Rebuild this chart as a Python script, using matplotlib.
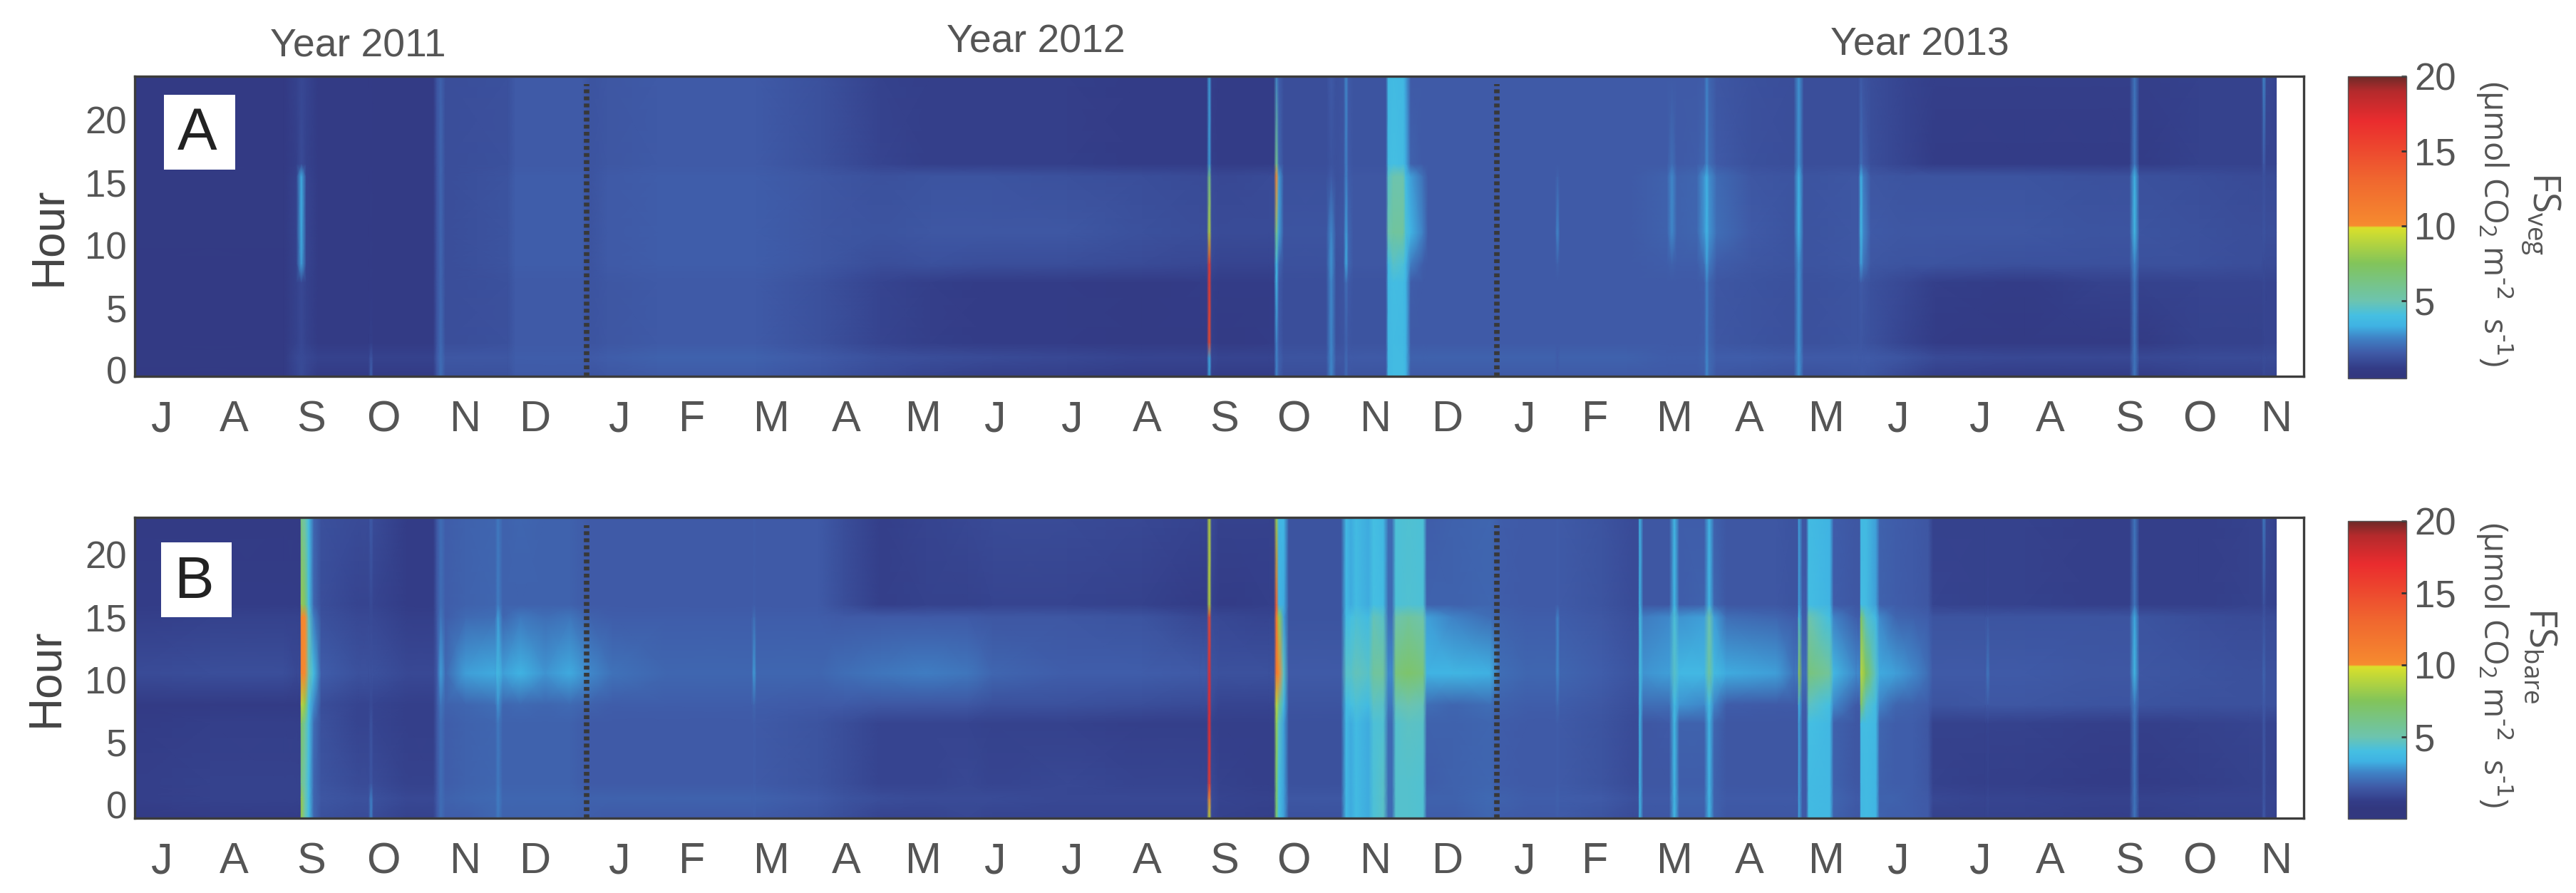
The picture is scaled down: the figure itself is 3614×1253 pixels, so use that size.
"""
Soil CO2 flux by hour of day, July 2011 to November 2013, vegetated and bare plots.
"""

import numpy as np
import matplotlib
matplotlib.use("Agg")
import matplotlib.pyplot as plt
from matplotlib.cm import ScalarMappable
from matplotlib.colors import LinearSegmentedColormap, Normalize
from matplotlib.patches import Rectangle

W, H = 3614, 1253
NARROW = ["Liberation Sans Narrow", "Liberation Sans", "DejaVu Sans"]
GREY = "#555555"

month_labels = list("JASONDJFMAMJJASONDJFMAMJJASON")
month_days = [11, 40, 71, 100, 133, 161, 195, 224, 256, 286, 317, 346, 377, 407, 438, 466,
              499, 528, 559, 587, 619, 649, 680, 709, 742, 770, 802, 830, 861]
year_ends = [181.7, 547.6]
hour_ticks = [0, 5, 10, 15, 20]
cbar_ticks = [5, 10, 15, 20]

# colour scale
scale_values = [0, 0.5, 1.5, 2.5, 3.3, 4, 5, 7.5, 9.9, 10, 13, 17, 19, 20]
scale_colors = ["#32387f", "#333c87", "#3f5aa7", "#3f82c6", "#3fb2e3", "#45bfe2", "#6dc4ae",
                "#82c45a", "#dbe02a", "#f68b2f", "#f0682f", "#ea2c2e", "#b42a2c", "#6d2a28"]

# panel A: one row per day listed, values at the hours listed
veg_hours = [-0.5, 1, 2.2, 7, 8.5, 11, 15.5, 16.5, 23.5]
veg_days = [0, 60, 65, 67, 69, 74, 94, 95, 96, 120, 121.5, 123, 125, 150, 153, 180, 183, 190, 210,
            250, 276, 300, 320, 345, 375, 405, 428, 431, 432, 433, 436, 456, 458, 459, 460, 462,
            479, 481, 483, 486, 487, 488, 490, 503, 504, 506, 510, 511, 513, 518, 520, 550, 571,
            572, 573, 600, 616, 618, 620, 628, 631, 632, 633, 636, 650, 667, 669, 671, 690, 693,
            694, 695, 698, 712, 724, 760, 790, 802, 804, 806, 830, 850, 855, 856, 857, 861]
fs_veg = [
    [.3, .35, .3, .3, .3, .35, .35, .3, .3],
    [.3, .35, .3, .3, .3, .35, .35, .3, .3],
    [.8, .9, .7, .7, .7, .7, .7, .6, .7],
    [1, 1, .9, .9, 3, 3.2, 3.2, 1, .9],
    [.8, .9, .7, .7, .8, .8, .8, .7, .8],
    [.4, .7, .4, .4, .4, .4, .4, .4, .4],
    [.4, .7, .4, .4, .4, .4, .4, .4, .4],
    [1.7, 1.4, .6, .5, .5, .5, .5, .4, .5],
    [.4, .7, .4, .4, .4, .4, .4, .4, .4],
    [.4, .7, .4, .4, .4, .4, .4, .4, .4],
    [1.3, 1.5, 1.3, 1.3, 1.3, 1.3, 1.3, 1.3, 1.3],
    [2, 2, 1.9, 1.8, 1.8, 1.8, 1.8, 1.8, 1.7],
    [1.2, 1.4, 1.1, 1.1, 1.1, 1.1, 1.1, 1.1, 1.1],
    [1.2, 1.4, 1.2, 1.2, 1.3, 1.3, 1.3, 1.2, 1.2],
    [1.5, 1.6, 1.5, 1.5, 1.6, 1.6, 1.6, 1.5, 1.5],
    [1.5, 1.6, 1.5, 1.5, 1.6, 1.6, 1.6, 1.5, 1.5],
    [1.3, 1.5, 1.3, 1.3, 1.3, 1.3, 1.3, 1.3, 1.3],
    [1.4, 1.6, 1.4, 1.4, 1.5, 1.5, 1.5, 1.4, 1.4],
    [1.5, 1.7, 1.5, 1.5, 1.6, 1.6, 1.6, 1.5, 1.5],
    [1.5, 1.7, 1.5, 1.5, 1.6, 1.6, 1.6, 1.5, 1.5],
    [1.3, 1.5, 1.2, 1.2, 1.4, 1.4, 1.4, 1.2, 1.2],
    [1, 1.2, .8, .8, 1.1, 1.3, 1.2, .8, .7],
    [.8, 1.1, .6, .6, 1.2, 1.4, 1.3, .6, .6],
    [.6, 1, .5, .5, 1.1, 1.4, 1.3, .6, .6],
    [.6, .9, .5, .5, 1.1, 1.4, 1.2, .6, .6],
    [.5, .8, .4, .4, 1, 1.2, 1.1, .5, .5],
    [.5, .8, .4, .5, .9, 1.1, 1, .5, .5],
    [.5, .8, .4, .5, .9, 1.1, 1, .5, .5],
    [3, 3.2, 15, 16, 16, 9, 6, 3, 3],
    [.6, .9, .6, .6, .9, 1.1, 1, .6, .6],
    [.5, .8, .4, .5, .8, 1, .9, .5, .5],
    [.5, .8, .5, .5, .8, 1, 1, .5, .5],
    [.5, .8, .5, .5, .8, 1, 1, .5, .5],
    [2.5, 2.5, 2.5, 3.5, 3.6, 6, 10.5, 6, 2.5],
    [1.6, 1.7, 1.5, 1.5, 1.8, 3, 3, 1.8, 1.6],
    [1.1, 1.3, 1.1, 1.1, 1.2, 1.3, 1.2, 1.1, 1.1],
    [1.1, 1.3, 1.1, 1.1, 1.2, 1.3, 1.2, 1.1, 1.1],
    [2.6, 2.6, 2.6, 2.6, 2.8, 2.6, 1.5, 1.3, 1.5],
    [1.2, 1.4, 1.2, 1.2, 1.2, 1.3, 1.2, 1.2, 1.2],
    [1.3, 1.4, 1.3, 1.3, 1.3, 1.4, 1.3, 1.3, 1.3],
    [1.9, 1.9, 1.7, 2, 3.2, 3, 2.5, 2.5, 2.6],
    [1.4, 1.5, 1.4, 1.5, 1.8, 1.8, 1.6, 1.5, 1.5],
    [1.3, 1.5, 1.3, 1.3, 1.4, 1.4, 1.4, 1.3, 1.3],
    [1.3, 1.5, 1.3, 1.3, 1.4, 1.4, 1.4, 1.3, 1.3],
    [3.6, 3.6, 3.6, 3.6, 3.8, 5, 4.5, 3.8, 3.6],
    [3.8, 3.8, 3.8, 3.9, 4.5, 5.5, 5, 4, 3.8],
    [3.8, 3.8, 3.7, 3.8, 4.2, 5.5, 5, 3.8, 3.6],
    [3.4, 3.4, 3.4, 3.4, 3.6, 4.2, 3.8, 3.2, 3],
    [1.5, 1.7, 1.5, 1.6, 2.4, 3.4, 3, 1.7, 1.5],
    [1.5, 1.7, 1.5, 1.5, 1.6, 2.4, 2, 1.5, 1.5],
    [1.5, 1.7, 1.5, 1.5, 1.5, 1.5, 1.5, 1.5, 1.5],
    [1.5, 1.7, 1.5, 1.5, 1.5, 1.5, 1.5, 1.5, 1.5],
    [1.5, 1.7, 1.5, 1.5, 1.5, 1.5, 1.5, 1.5, 1.5],
    [1.5, 1.6, 1.5, 1.5, 1.7, 2.6, 1.7, 1.5, 1.5],
    [1.5, 1.7, 1.5, 1.5, 1.5, 1.5, 1.5, 1.5, 1.5],
    [1.5, 1.7, 1.5, 1.5, 1.5, 1.5, 1.5, 1.5, 1.5],
    [1.5, 1.6, 1.5, 1.5, 1.6, 1.7, 1.7, 1.5, 1.5],
    [1.5, 1.6, 1.5, 1.5, 1.7, 2.6, 2.6, 2, 1.5],
    [1.5, 1.6, 1.5, 1.5, 1.6, 1.7, 1.7, 1.5, 1.5],
    [1.5, 1.6, 1.5, 1.5, 1.6, 1.8, 1.8, 1.6, 1.5],
    [1.6, 1.7, 1.6, 1.6, 2, 2.8, 2.8, 1.8, 1.6],
    [2.6, 2.6, 2.5, 2.5, 3, 3.4, 3.3, 2.6, 2.5],
    [1.9, 1.9, 1.8, 1.8, 2.3, 2.8, 2.7, 2, 1.8],
    [1.4, 1.6, 1.4, 1.4, 1.6, 2, 1.9, 1.5, 1.4],
    [1.3, 1.6, 1.3, 1.3, 1.4, 1.5, 1.4, 1.2, 1.2],
    [1.2, 1.5, 1.2, 1.2, 1.3, 1.3, 1.3, 1.1, 1.1],
    [2.8, 2.8, 2.8, 2.8, 2.8, 3.4, 3.4, 2.8, 2.8],
    [1.2, 1.5, 1.2, 1.2, 1.3, 1.3, 1.3, 1.1, 1.1],
    [1.3, 1.5, 1.3, 1.3, 1.4, 1.4, 1.4, 1.1, 1.1],
    [1.3, 1.5, 1.3, 1.3, 1.4, 1.4, 1.4, 1.1, 1.1],
    [1.4, 1.5, 1.4, 1.5, 3, 3.6, 3.3, 2, 1.5],
    [1.4, 1.5, 1.3, 1.4, 2.2, 2.6, 2.4, 1.6, 1.3],
    [1.3, 1.5, 1.2, 1.2, 1.4, 1.5, 1.4, 1.1, 1.1],
    [.9, 1.3, .8, .9, 1.3, 1.4, 1.3, .8, .8],
    [.6, 1, .5, .6, 1.3, 1.4, 1.3, .5, .6],
    [.5, .9, .4, .5, 1.2, 1.4, 1.3, .5, .6],
    [.5, .9, .4, .7, 1.2, 1.3, 1.2, .5, .6],
    [.5, .9, .4, .7, 1.2, 1.3, 1.2, .5, .6],
    [2.2, 2.2, 2.2, 2.3, 2.6, 3.6, 3.4, 2.3, 2.2],
    [.5, .9, .4, .7, 1.2, 1.3, 1.2, .5, .6],
    [.7, 1, .7, .8, 1.2, 1.2, 1.1, .7, .7],
    [.7, 1, .7, .8, 1.1, 1.1, 1, .7, .7],
    [.7, 1, .7, .8, 1.1, 1.1, 1, .7, .7],
    [.9, 1.1, .8, .9, 1, 1.3, 1.2, 1.5, 2.6],
    [.8, 1, .8, .8, 1, 1.1, 1, .8, .9],
    [.8, 1, .8, .8, 1, 1.1, 1, .8, .8],
]

# panel B: same layout, its hour axis sits half an hour lower
bare_hours = [-1, 0.5, 1.7, 6.5, 8, 10.5, 15, 16, 23]
bare_days = [0, 30, 60, 65, 66.5, 67, 68.5, 70, 72, 75, 90, 94, 95, 96, 110, 120, 121.5, 123, 125,
             133, 145, 146, 148, 155, 165, 175, 183, 192, 215, 248, 249, 250, 275, 285, 300, 318,
             335, 345, 375, 405, 428, 431, 432, 433, 436, 456, 458, 459, 460, 462, 464, 485, 487,
             489, 491, 496, 498, 502, 504, 505.5, 507, 512, 518, 519.5, 530, 545, 549, 560, 571,
             572, 573, 590, 603, 604.5, 605, 606.5, 617, 619, 621, 631, 633, 635, 640, 660, 667,
             668.5, 669, 670.5, 672, 673, 681.5, 683, 692, 693.5, 694, 696, 700, 701.5, 708, 715,
             721, 723, 744, 745, 746, 760, 790, 802, 804, 806, 830, 850, 855, 856, 857, 861]
fs_bare = [
    [.4, .6, .6, .5, .4, 1, .6, .5, .4],
    [.5, .7, .7, .6, .4, 1.1, .7, .5, .4],
    [.5, .7, .7, .6, .4, 1.1, .7, .5, .4],
    [.5, .7, .7, .6, .4, .9, .7, .5, .4],
    [.5, .7, .7, .6, .4, .9, .7, .5, .4],
    [8, 8, 6, 7, 9, 10.5, 10.5, 8, 6],
    [5, 5, 5, 5.5, 8, 10, 10, 7, 5],
    [3.8, 3.8, 3.8, 4, 4, 5, 4.5, 4, 3.8],
    [1.8, 1.8, 1.8, 2, 2.6, 3.8, 2.4, 1.8, 1.8],
    [1.2, 1.4, 1.3, 1.2, 1.1, 1.6, 1.2, 1.1, 1.2],
    [1, 1.2, 1, .8, .8, 1.2, .9, .8, 1],
    [1, 1.2, 1, .8, .8, 1.2, .9, .8, 1],
    [2.5, 2.5, 1.4, 1.3, 1, 1.2, 1, 1, 1.6],
    [1, 1.2, 1, .8, .8, 1.2, .9, .8, 1],
    [.7, .9, .7, .6, .6, .9, .6, .5, .5],
    [.7, .9, .7, .6, .6, .9, .6, .5, .5],
    [1.4, 1.5, 1.4, 1.4, 1.4, 1.5, 1.4, 1.4, 1.4],
    [2, 2, 2, 2, 2.2, 3, 2.2, 2, 2],
    [1.6, 1.7, 1.6, 1.6, 1.7, 1.9, 1.6, 1.6, 1.6],
    [1.6, 1.8, 1.7, 1.7, 1.8, 3, 1.9, 1.7, 1.7],
    [1.8, 1.9, 1.8, 1.8, 2, 3.2, 2, 1.8, 1.8],
    [2.3, 2.4, 2.3, 2.3, 2.8, 3.8, 3, 2.4, 2.3],
    [1.7, 1.8, 1.7, 1.7, 1.8, 3, 1.8, 1.7, 1.7],
    [1.7, 1.8, 1.7, 1.7, 1.9, 3.4, 2.3, 1.7, 1.8],
    [1.7, 1.8, 1.7, 1.7, 1.8, 2.8, 2, 1.7, 1.7],
    [1.7, 1.8, 1.7, 1.7, 1.9, 3.2, 2.2, 1.7, 1.7],
    [1.6, 1.7, 1.5, 1.5, 1.7, 2.6, 1.7, 1.5, 1.5],
    [1.5, 1.7, 1.5, 1.5, 1.6, 2.1, 1.6, 1.5, 1.5],
    [1.5, 1.7, 1.5, 1.5, 1.6, 1.8, 1.6, 1.5, 1.5],
    [1.5, 1.7, 1.5, 1.5, 1.6, 1.8, 1.6, 1.5, 1.5],
    [1.6, 1.7, 1.6, 1.6, 1.8, 3, 2, 1.6, 1.6],
    [1.5, 1.7, 1.5, 1.5, 1.6, 1.8, 1.6, 1.5, 1.5],
    [1.3, 1.5, 1.3, 1.3, 1.5, 1.8, 1.6, 1.5, 1.5],
    [1.1, 1.3, 1.1, 1.1, 1.5, 2, 1.5, 1.1, 1.1],
    [.8, 1.1, .8, .8, 1.4, 2.2, 1.5, .6, .6],
    [.8, 1, .8, .8, 1.4, 2.4, 1.5, .7, .8],
    [.9, 1, .9, .8, 1.4, 2.2, 1.5, .7, .9],
    [.8, 1, .8, .7, 1.2, 1.8, 1.4, .8, 1],
    [.8, .9, .9, .7, 1.2, 1.6, 1.4, .8, 1],
    [.8, .9, .8, .6, 1.1, 1.6, 1.3, .7, .9],
    [.8, .9, .8, .6, 1, 1.5, .9, .5, .8],
    [.8, .9, .8, .6, 1, 1.5, .9, .5, .8],
    [9, 10, 16, 17, 17, 17, 15, 9, 9],
    [.9, 1, .9, .7, 1, 1.3, 1, .7, 1],
    [.7, .8, .7, .6, .8, 1.2, .9, .5, .7],
    [.6, .7, .6, .6, .8, 1.2, .8, .6, .7],
    [.6, .7, .6, .6, .8, 1.2, .8, .6, .7],
    [7, 7, 7, 8, 9, 12, 12, 14, 8],
    [4, 4, 4, 4.5, 6, 10, 8, 3.5, 3.5],
    [3, 3, 3, 3, 3.5, 4.5, 3, 3.2, 3.5],
    [1.2, 1.4, 1.2, 1.2, 1.3, 1.5, 1.3, 1.3, 1.3],
    [1.2, 1.4, 1.2, 1.2, 1.3, 1.5, 1.3, 1.3, 1.3],
    [3.6, 3.6, 3.6, 3.6, 3.8, 4.5, 3.8, 3.6, 3.6],
    [3.2, 3.2, 3.2, 3.2, 4, 4.5, 4, 3.2, 3.2],
    [3.8, 3.8, 3.8, 3.8, 4.2, 4.8, 4.2, 3.8, 3.8],
    [3.2, 3.2, 3.2, 3.2, 3.8, 4.5, 3.8, 3.2, 3.2],
    [4.2, 4.2, 4.2, 4.2, 4.6, 5.5, 4.8, 4, 4],
    [4.5, 4.5, 4.5, 4.3, 4.5, 5.5, 4.5, 3.8, 3.6],
    [1.9, 1.9, 1.9, 1.9, 2.2, 2.6, 2, 1.9, 1.9],
    [1.9, 1.9, 1.9, 1.9, 2.2, 2.6, 2, 1.9, 1.9],
    [4.4, 4.4, 4.4, 4.4, 4.8, 6.5, 5, 4.2, 4.2],
    [4.4, 4.4, 4.4, 4.6, 5, 7, 5.5, 4.3, 4.3],
    [4.3, 4.3, 4.3, 4.5, 4.8, 6.5, 5, 4.2, 4.2],
    [1.6, 1.7, 1.6, 1.7, 2, 3.4, 3, 1.7, 1.6],
    [1.6, 1.7, 1.7, 1.7, 1.8, 3.5, 2.5, 1.7, 1.7],
    [1.8, 1.9, 1.8, 1.8, 2, 3.3, 2, 1.8, 1.8],
    [1.6, 1.7, 1.6, 1.6, 1.7, 2, 1.7, 1.6, 1.6],
    [1.5, 1.6, 1.5, 1.5, 1.6, 1.8, 1.6, 1.5, 1.5],
    [1.5, 1.6, 1.5, 1.5, 1.6, 1.8, 1.6, 1.5, 1.5],
    [1.6, 1.7, 1.6, 1.6, 1.9, 2.6, 2.5, 1.6, 1.6],
    [1.5, 1.6, 1.5, 1.5, 1.6, 1.8, 1.6, 1.5, 1.5],
    [1.3, 1.5, 1.3, 1.3, 1.4, 1.6, 1.4, 1.3, 1.3],
    [1, 1.2, 1, 1, 1.1, 1.3, 1.1, 1, 1],
    [1, 1.2, 1, 1, 1.1, 1.3, 1.1, 1, 1],
    [3.5, 3.5, 3.5, 3.5, 3.6, 4, 4, 3.5, 3.5],
    [1.4, 1.5, 1.4, 1.4, 2, 2.8, 2.4, 1.4, 1.4],
    [1.4, 1.5, 1.4, 1.5, 2, 3, 2.6, 1.4, 1.4],
    [3.6, 3.6, 3.6, 3.7, 3.8, 4.5, 4.2, 3.6, 3.6],
    [1.6, 1.7, 1.6, 1.7, 2.8, 3.6, 2.8, 1.6, 1.6],
    [1.6, 1.7, 1.6, 1.7, 2.6, 3.6, 3, 1.7, 1.6],
    [3.5, 3.5, 3.5, 3.5, 4, 5.5, 5, 3.6, 3.5],
    [1.7, 1.7, 1.7, 1.8, 2.5, 3.8, 3, 1.8, 1.7],
    [1.4, 1.5, 1.4, 1.4, 1.6, 3.2, 2, 1.4, 1.4],
    [1.4, 1.5, 1.4, 1.4, 1.5, 3, 1.8, 1.4, 1.4],
    [1.4, 1.5, 1.4, 1.4, 1.5, 2.2, 1.6, 1.3, 1.3],
    [1.4, 1.5, 1.4, 1.4, 1.5, 2.2, 1.6, 1.3, 1.3],
    [3, 3, 3, 3, 3.4, 8, 4, 3, 3],
    [1.5, 1.5, 1.5, 1.5, 1.6, 2, 1.6, 1.5, 1.4],
    [1.5, 1.5, 1.5, 1.5, 1.6, 2, 1.6, 1.5, 1.4],
    [3.8, 3.8, 3.8, 4, 4.6, 6.5, 5, 3.9, 3.8],
    [3.6, 3.6, 3.6, 3.6, 4, 5.5, 4, 3.4, 3.4],
    [1.7, 1.8, 1.7, 1.7, 2.6, 3.6, 2.5, 1.6, 1.6],
    [1.4, 1.5, 1.4, 1.4, 1.5, 2.6, 1.6, 1.4, 1.4],
    [1.4, 1.5, 1.4, 1.4, 1.5, 2.6, 1.6, 1.4, 1.4],
    [3.6, 3.6, 3.6, 3.8, 7, 9, 7, 3.8, 3.6],
    [3.8, 3.8, 3.8, 3.9, 4.5, 7.5, 4.5, 3.8, 3.8],
    [3.5, 3.5, 3.5, 3.6, 3.8, 4.5, 3.6, 3, 3],
    [1.7, 1.7, 1.7, 1.8, 2.5, 3.2, 2.6, 1.7, 1.7],
    [1.6, 1.7, 1.6, 1.6, 1.8, 3, 1.8, 1.6, 1.6],
    [1.6, 1.6, 1.6, 1.6, 1.7, 2.6, 1.7, 1.5, 1.5],
    [1.5, 1.5, 1.4, 1.4, 1.6, 2, 1.6, 1.4, 1.4],
    [.7, .9, .7, .7, 1.3, 1.5, 1.3, .8, .7],
    [.7, .8, .6, .7, 1.4, 1.5, 1.3, .7, .7],
    [.8, .9, .7, .8, 1.5, 2.3, 1.4, .8, .7],
    [.7, .8, .6, .7, 1.4, 1.5, 1.3, .7, .7],
    [.7, .8, .6, .7, 1.4, 1.5, 1.3, .7, .7],
    [.6, .7, .5, .6, 1.3, 1.4, 1.3, .6, .6],
    [.6, .7, .5, .6, 1.3, 1.4, 1.3, .6, .6],
    [2.2, 2.2, 2.2, 2.2, 2.4, 3.6, 3.2, 2.2, 2.2],
    [.6, .7, .5, .6, 1.3, 1.4, 1.3, .6, .6],
    [.7, .8, .6, .7, 1.2, 1.3, 1.1, .6, .6],
    [.7, .8, .7, .8, 1.2, 1.2, 1, .7, .7],
    [.7, .8, .7, .8, 1.2, 1.2, 1, .7, .7],
    [1.5, 1.4, 1.4, 1.4, 1.5, 1.8, 1.3, 1.2, 2.4],
    [.8, .8, .8, .8, 1.2, 1.2, 1, .8, .9],
    [.7, .8, .7, .8, 1.2, 1.2, 1, .7, .7],
]

matplotlib.rcParams["mathtext.default"] = "regular"
scale = LinearSegmentedColormap.from_list(
    "flux", [(v / 20, c) for v, c in zip(scale_values, scale_colors)], N=1024)
norm = Normalize(0, 20)


def box(left, top, right, bottom):
    # pixel box of the reference to figure fractions
    return [left / W, 1 - bottom / H, (right - left) / W, (bottom - top) / H]


def fig_text(fig, x, y, s, **kw):
    kw.setdefault("color", GREY)
    fig.text(x / W, 1 - y / H, s, ha="center", va="center", **kw)


def draw_panel(fig, rect, days, hours, values, ylim, letter, letter_box, letter_xy):
    ax = fig.add_axes(rect)
    ax.pcolormesh(days, hours, np.array(values).T, cmap=scale, norm=norm, shading="gouraud")
    ax.set_xlim(0, 872)
    ax.set_ylim(*ylim)
    for end in year_ends:
        ax.axvline(end, ymax=0.975, color="#383838", lw=5.5, dashes=(0.7, 0.6))
    ax.set_xticks(month_days, month_labels, fontsize=44, family=NARROW, color=GREY)
    ax.set_yticks(hour_ticks, [str(h) for h in hour_ticks], fontsize=38, family=NARROW, color=GREY)
    ax.tick_params(axis="x", length=0, pad=24)
    ax.tick_params(axis="y", length=0, pad=8)
    for spine in ax.spines.values():
        spine.set_linewidth(2.4)
        spine.set_color("#3c3c3c")
    x0, y0, w, h = box(*letter_box)
    fig.add_artist(Rectangle((x0, y0), w, h, transform=fig.transFigure, fc="white", ec="none"))
    fig_text(fig, letter_xy[0], letter_xy[1], letter, fontsize=60, family=NARROW, color="#222222")
    return ax


def draw_cbar(fig, rect, below_zero):
    # the bars run a little past 0 at the bottom
    cax = fig.add_axes(rect)
    cb = fig.colorbar(ScalarMappable(norm=norm, cmap=scale), cax=cax, extend="min",
                      extendfrac=below_zero / 20, extendrect=True)
    cb.set_ticks(cbar_ticks)
    cb.ax.tick_params(labelsize=38, length=5, width=2, direction="in", pad=8, color="#333333",
                      labelcolor=GREY)
    for label in cb.ax.get_yticklabels():
        label.set_family(NARROW)
    cb.outline.set_linewidth(1.0)
    cb.outline.set_edgecolor("#555555")


if __name__ == "__main__":
    fig = plt.figure(figsize=(W / 100, H / 100), dpi=100, facecolor="white")

    draw_panel(fig, box(189, 107, 3232, 528), veg_days, veg_hours, fs_veg, (-0.5, 23.5),
               "A", (230, 133, 330, 238), (277, 188))
    draw_panel(fig, box(189, 726, 3232, 1148), bare_days, bare_hours, fs_bare, (-1.08, 22.96),
               "B", (226, 761, 325, 866), (272, 817))
    draw_cbar(fig, box(3294, 107, 3376, 531), 0.2)
    draw_cbar(fig, box(3294, 731, 3376, 1149), 0.7)

    fig_text(fig, 502, 66, "Year 2011", fontsize=40, family=NARROW)
    fig_text(fig, 1453, 60, "Year 2012", fontsize=40, family=NARROW)
    fig_text(fig, 2693, 64, "Year 2013", fontsize=40, family=NARROW)

    hour_font = ["Liberation Sans", "DejaVu Sans"]
    fig_text(fig, 68, 332, "Hour", fontsize=46, family=hour_font, rotation=90, color="#444444")
    fig_text(fig, 64, 951, "Hour", fontsize=46, family=hour_font, rotation=90, color="#444444")

    unit = r"(µmol CO$_2$ m$^{\text{-2}}$  s$^{\text{-1}}$)"
    unit_font = ["Open Sans", "DejaVu Sans"]
    fig_text(fig, 3500, 314, unit, fontsize=33, family=unit_font, rotation=270)
    fig_text(fig, 3500, 933, unit, fontsize=33, family=unit_font, rotation=270)
    fig_text(fig, 3564, 300, "FS$_{veg}$", fontsize=38, family=unit_font, rotation=270)
    fig_text(fig, 3563, 920, "FS$_{bare}$", fontsize=38, family=unit_font, rotation=270)

    fig.savefig("out.png", dpi=100)
